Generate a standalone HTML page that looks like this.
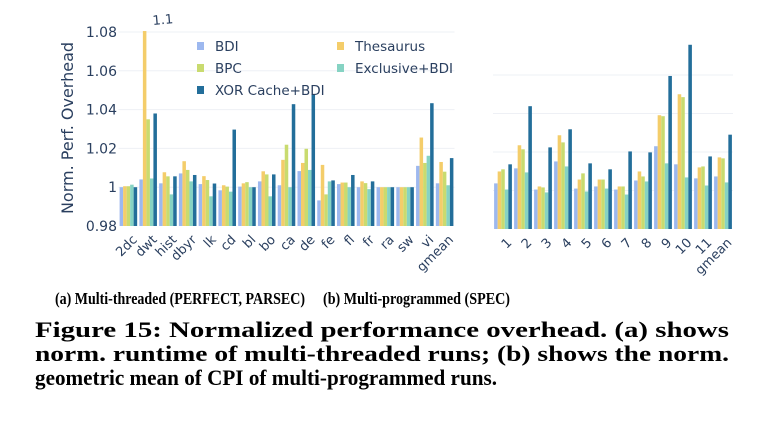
<!DOCTYPE html>
<html><head><meta charset="utf-8"><style>
html,body{margin:0;padding:0;background:#fff;}
svg{display:block;}
.t{font-family:"DejaVu Sans","Liberation Sans",sans-serif;fill:#2a3f5f;}
.cap{font-family:"Liberation Serif",serif;font-weight:bold;fill:#000;}
</style></head><body>
<svg id="fig" width="765" height="446" viewBox="0 0 765 446" xmlns="http://www.w3.org/2000/svg">
<g id="left"></g>
<g id="right"></g>
<g id="legend"></g>
<text class="t" x="0" y="0" font-size="16" text-anchor="middle" transform="translate(73,128) rotate(-90)">Norm. Perf. Overhead</text>
<text class="cap" x="55" y="304" font-size="17" textLength="250" lengthAdjust="spacingAndGlyphs">(a)  Multi-threaded (PERFECT, PARSEC)</text>
<text class="cap" x="323" y="304" font-size="17" textLength="187" lengthAdjust="spacingAndGlyphs">(b)  Multi-programmed (SPEC)</text>
<text class="cap" x="35" y="337" font-size="22" textLength="694" lengthAdjust="spacingAndGlyphs">Figure 15: Normalized performance overhead. (a) shows</text>
<text class="cap" x="35" y="361" font-size="22" textLength="694" lengthAdjust="spacingAndGlyphs">norm. runtime of multi-threaded runs; (b) shows the norm.</text>
<text class="cap" x="35" y="385" font-size="22" textLength="462" lengthAdjust="spacingAndGlyphs">geometric mean of CPI of multi-programmed runs.</text>
</svg>
<script>
const seriesNames = ["BDI","Thesaurus","BPC","Exclusive+BDI","XOR Cache+BDI"];
const seriesColors = ["#9db8ef","#f4cd6a","#c9db6f","#86d3c3","#236e9a"];
const leftCategories = ["2dc","dwt","hist","dbyr","lk","cd","bl","bo","ca","de","fe","fl","fr","ra","sw","vi","gmean"];
const leftBDI = [1.000,1.004,1.002,1.0071,1.0016,0.9984,1.0003,1.003,1.001,1.0083,0.9932,1.0016,1.000,1.000,1.000,1.011,1.002];
const leftThesaurus = [1.0005,1.1,1.0077,1.0134,1.0057,1.001,1.002,1.0082,1.0141,1.0125,1.0115,1.0024,1.003,1.000,1.000,1.0256,1.013];
const leftBPC = [1.0005,1.035,1.0056,1.0089,1.0037,1.0003,1.0026,1.0066,1.0219,1.0198,0.9963,1.0024,1.0021,1.000,1.000,1.0125,1.008];
const leftExclusive = [1.0013,1.0045,0.9963,1.003,0.9953,0.9977,1.000,0.9953,1.000,1.0089,1.003,1.000,0.999,1.000,1.000,1.0162,1.001];
const leftXOR = [1.000,1.038,1.0056,1.0063,1.0019,1.0297,1.000,1.0066,1.0428,1.048,1.0035,1.0063,1.003,1.000,1.000,1.0433,1.015];
const leftTicks = ["0.98","1","1.02","1.04","1.06","1.08"];
const rightCategories = ["1","2","3","4","5","6","7","8","9","10","11","gmean"];
const rightBDI = [1.0037,1.0115,1.0005,1.0151,1.001,1.0021,1.0005,1.0052,1.023,1.0136,1.0063,1.0073];
const rightThesaurus = [1.0099,1.0235,1.0021,1.0287,1.0057,1.0057,1.0021,1.0099,1.0391,1.05,1.012,1.0172];
const rightBPC = [1.011,1.0214,1.0016,1.025,1.0089,1.0057,1.0021,1.0073,1.0386,1.0485,1.0125,1.0167];
const rightExclusive = [1.0005,1.0094,0.999,1.0125,0.9995,1.001,0.9979,1.0047,1.0141,1.0068,1.0026,1.0042];
const rightXOR = [1.0136,1.0438,1.0224,1.0318,1.0141,1.011,1.0203,1.0198,1.0595,1.0757,1.0177,1.029];
const rightTicks = ["0.98","1","1.02","1.04","1.06","1.08"];
const leftLabel = "1.1";
const rightLabel = "1.08";

const NS="http://www.w3.org/2000/svg";
function mk(tag,attrs,parent){const e=document.createElementNS(NS,tag);for(const k in attrs)e.setAttribute(k,attrs[k]);parent.appendChild(e);return e;}

function drawChart(g,opt){
  const {x0,x1,yBottom,pxPer,cats,series,ticks,showTickLabels,maxV,label,labelIdx,labelSeries,labelDx,labelDy}=opt;
  const y=v=>yBottom-(v-0.98)*pxPer;
  const bw=(x1-x0)/cats.length;
  const barW=(bw-2.2)/5;
  ticks.forEach(t=>{
    const v=parseFloat(t);
    if(v>0.98){
      const l=mk('line',{x1:x0,x2:x1,y1:y(v),y2:y(v),stroke:'#eef0f5','stroke-width':1},g);
      
      
    }
    if(showTickLabels){
      const tx=mk('text',{x:117,y:y(v)+5,'font-size':14,'text-anchor':'end',class:'t'},g);
      tx.textContent=t;
      
      
    }
  });
  cats.forEach((c,i)=>{
    const cx=x0+i*bw+1.1;
    series.forEach((s,j)=>{
      const v=Math.min(s[i],maxV);
      const top=y(v);
      const r=mk('rect',{x:cx+j*barW,y:top,width:barW,height:yBottom-top,fill:seriesColors[j]},g);
      
      
    });
    const lx=x0+i*bw+bw/2+3, ly=yBottom+8;
    const tl=mk('text',{x:0,y:0,'font-size':13,'text-anchor':'end',class:'t',transform:`translate(${lx},${ly}) rotate(-45)`},g);
    tl.setAttribute('dy','0.7em');
    tl.textContent=c;
    
    
  });
  const ax=x0+labelIdx*bw+1.1+labelSeries*barW+labelDx;
  const lb=mk('text',{x:ax,y:y(maxV)+labelDy,'font-size':13,class:'t',transform:`rotate(-5 ${ax} ${y(maxV)+labelDy})`},g);
  lb.textContent=label;
  
  
}

drawChart(document.getElementById('left'),{x0:118.5,x1:454.5,yBottom:226,pxPer:1940,cats:leftCategories,
  series:[leftBDI,leftThesaurus,leftBPC,leftExclusive,leftXOR],ticks:leftTicks,showTickLabels:true,maxV:1.0805,
  label:leftLabel,labelIdx:1,labelSeries:1,labelDx:10,labelDy:-6});
drawChart(document.getElementById('right'),{x0:493,x1:733,yBottom:229,pxPer:1925,cats:rightCategories,
  series:[rightBDI,rightThesaurus,rightBPC,rightExclusive,rightXOR],ticks:rightTicks.slice(0,5),showTickLabels:false,maxV:1.2,
  label:rightLabel,labelIdx:9,labelSeries:4,labelDx:-14,labelDy:-9});

const lg=document.getElementById('legend');
const pos=[[197,46],[337,46],[197,68],[337,68],[197,90]];
seriesNames.forEach((n,i)=>{
  const [lx,ly]=pos[i];
  const r=mk('rect',{x:lx,y:ly-4,width:7,height:8,fill:seriesColors[i]},lg);
  
  
  const t=mk('text',{x:lx+18,y:ly+5,'font-size':13.5,class:'t'},lg);
  t.textContent=n;
  
  
});
</script>
</body></html>
